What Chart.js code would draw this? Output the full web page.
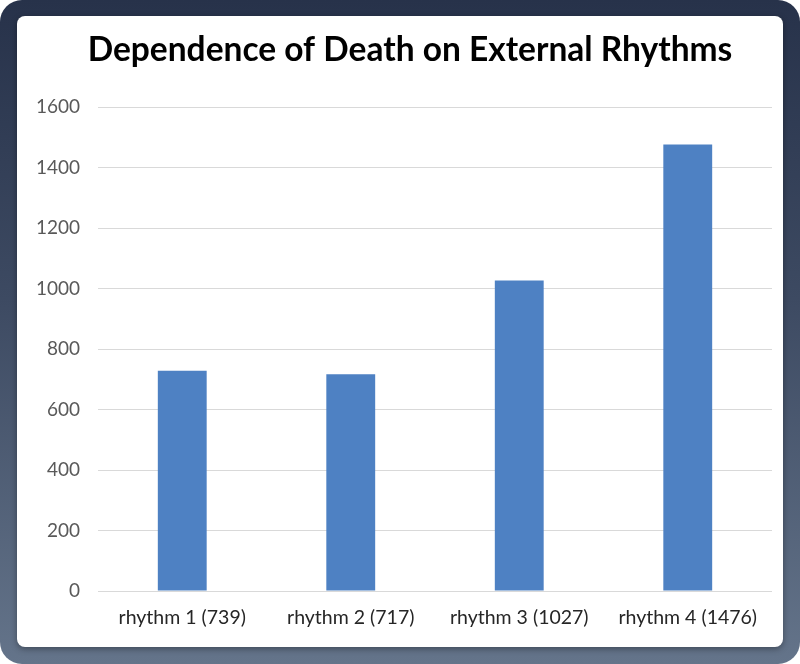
<!DOCTYPE html>
<html>
<head>
<meta charset="utf-8">
<script src="https://cdn.jsdelivr.net/npm/chart.js@4"></script>
<style>
    html, body { margin: 0; padding: 0; background: #ffffff; }
    .frame {
        position: relative;
        width: 800px;
        height: 664px;
        border-radius: 22px;
        background: linear-gradient(180deg, #27324a 0%, #3d4a62 45%, #64748a 100%);
        overflow: hidden;
    }
    .card {
        position: absolute;
        left: 17px;
        top: 16px;
        width: 766px;
        height: 631px;
        border-radius: 8px;
        background: #ffffff;
        box-shadow: 0 2px 6px rgba(0, 0, 0, 0.35);
    }
    canvas { display: block; }
</style>
</head>
<body>
<div class="frame">
    <div class="card">
        <canvas id="deathChart" width="766" height="631"></canvas>
    </div>
</div>
<script>
// chart data
var categories = ["rhythm 1 (739)", "rhythm 2 (717)", "rhythm 3 (1027)", "rhythm 4 (1476)"];
var deaths = [728, 717, 1027, 1477];
var yTicks = [0, 200, 400, 600, 800, 1000, 1200, 1400, 1600];

// title in the original sits a little right of the card centre
var shiftTitle = {
    id: "shiftTitle",
    afterLayout: function (chart) {
        if (chart.titleBlock) chart.titleBlock.left += 31;
    }
};

var ctx = document.getElementById("deathChart").getContext("2d");

new Chart(ctx, {
    type: "bar",
    data: {
        labels: categories,
        datasets: [{
            data: deaths,
            backgroundColor: "#4e81c3",
            borderWidth: 0,
            categoryPercentage: 1,
            barPercentage: 0.29
        }]
    },
    options: {
        responsive: false,
        animation: false,
        layout: { padding: { left: 0, right: 11, top: 0, bottom: 0 } },
        plugins: {
            legend: { display: false },
            tooltip: { enabled: false },
            title: {
                display: true,
                text: "Dependence of Death on External Rhythms",
                color: "#000000",
                font: { family: "Lato", size: 33.5, weight: "bold" },
                padding: { top: 14, bottom: 37 }
            }
        },
        scales: {
            x: {
                grid: { display: false, drawTicks: false },
                border: { display: false },
                ticks: {
                    color: "#262626",
                    font: { family: "Lato", size: 19.5 },
                    padding: 15
                },
                afterFit: function (scale) { scale.height = 56; }
            },
            y: {
                min: 0,
                max: 1600,
                afterBuildTicks: function (scale) {
                    scale.ticks = yTicks.map(function (v) { return { value: v }; });
                },
                grid: { color: "#d9d9d9", lineWidth: 1, drawTicks: false },
                border: { display: false },
                ticks: {
                    color: "#595959",
                    font: { family: "Lato", size: 19 },
                    padding: 18,
                    callback: function (v) { return String(v); }
                },
                afterFit: function (scale) { scale.width = 81; }
            }
        }
    },
    plugins: [shiftTitle]
});
</script>
</body>
</html>
